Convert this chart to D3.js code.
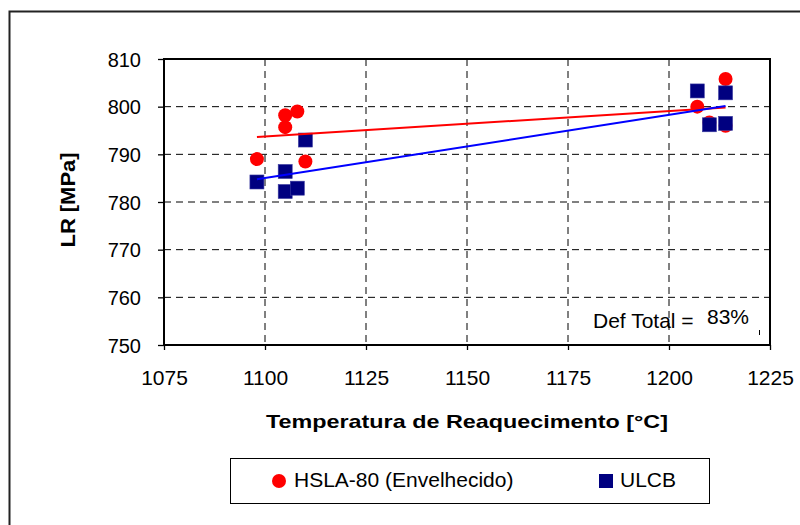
<!DOCTYPE html>
<html><head><meta charset="utf-8">
<script src="https://cdn.jsdelivr.net/npm/d3@7"></script>
<style>body{margin:0;background:#fff}svg{display:block}text{font-family:"Liberation Sans",Arial,sans-serif;fill:#000}</style>
</head><body>
<svg id="c" width="800" height="525"></svg>
<script>
const hslaTemp = [1098,1105,1105,1108,1110,1207,1210,1214,1214];
const hslaLR   = [789,798.2,795.7,799,788.5,800,796.7,805.8,796];
const ulcbTemp = [1098,1105,1105,1108,1110,1207,1210,1214,1214];
const ulcbLR   = [784.2,786.4,782.2,782.9,793,803.3,796.2,802.9,796.5];
const xTicks = [1075,1100,1125,1150,1175,1200,1225];
const yTicks = [750,760,770,780,790,800,810];
const seriesNames = ["HSLA-80 (Envelhecido)","ULCB"];
const annotation = ["Def Total =","83%"];

const svg = d3.select("#c");
const L=164,R=770,T=59,B=345;
const x = d3.scaleLinear().domain([1075,1225]).range([L,R]);
const y = d3.scaleLinear().domain([750,810]).range([B,T]);

// outer border
svg.append("rect").attr("x",9.5).attr("y",11.5).attr("width",800).attr("height",530)
  .attr("fill","none").attr("stroke","#222").attr("stroke-width",2);

// gridlines
const g = svg.append("g");
g.selectAll(".hg").data(yTicks.slice(1,-1)).join("line")
  .attr("x1",L).attr("x2",R).attr("y1",d=>y(d)).attr("y2",d=>y(d))
  .attr("stroke","#000").attr("stroke-dasharray","7,5");
g.selectAll(".vg").data(xTicks.slice(1,-1)).join("line")
  .attr("y1",T).attr("y2",B).attr("x1",d=>x(d)).attr("x2",d=>x(d))
  .attr("stroke","#000").attr("stroke-dasharray","7,5");

// axes
const xa = svg.append("g").attr("transform",`translate(0,${B})`)
  .call(d3.axisBottom(x).tickValues(xTicks).tickFormat(d3.format("d")).tickSizeOuter(0).tickSize(5));
const ya = svg.append("g").attr("transform",`translate(${L},0)`)
  .call(d3.axisLeft(y).tickValues(yTicks).tickFormat(d3.format("d")).tickSizeOuter(0).tickSize(6).tickPadding(17));
[xa,ya].forEach(a=>{a.select(".domain").remove();a.selectAll("line").attr("stroke","#000").attr("stroke-width",1.3);
  a.selectAll("text").attr("font-family","Liberation Sans, Arial, sans-serif").attr("fill","#000");});
xa.selectAll("text").attr("font-size",21).attr("y",40).attr("dy",0);
ya.selectAll("text").attr("font-size",20).attr("dy","0.36em");

// plot border
svg.append("rect").attr("x",L).attr("y",T).attr("width",R-L).attr("height",B-T)
  .attr("fill","none").attr("stroke","#000").attr("stroke-width",2);

// annotation
svg.append("text").attr("x",593).attr("y",328).attr("font-size",21).text(annotation[0]);
svg.append("text").attr("x",707).attr("y",324).attr("font-size",21).text(annotation[1]);
svg.append("line").attr("x1",759.5).attr("x2",759.5).attr("y1",330).attr("y2",335).attr("stroke","#000");

// points
svg.append("g").selectAll("circle").data(hslaTemp.map((t,i)=>[t,hslaLR[i]])).join("circle")
  .attr("cx",d=>x(d[0])).attr("cy",d=>y(d[1])).attr("r",7).attr("fill","#ff0000");
svg.append("g").selectAll("rect").data(ulcbTemp.map((t,i)=>[t,ulcbLR[i]])).join("rect")
  .attr("x",d=>x(d[0])-7).attr("y",d=>y(d[1])-7).attr("width",14).attr("height",14)
  .attr("fill","#000080").attr("stroke","#3a3aa0").attr("stroke-width",0.6);

// linear trendlines
function trend(xs,ys){
  const mx=d3.mean(xs),my=d3.mean(ys);
  const s=d3.sum(xs.map((v,i)=>(v-mx)*(ys[i]-my)))/d3.sum(xs.map(v=>(v-mx)**2));
  const x0=d3.min(xs),x1=d3.max(xs);
  return [[x0,my+s*(x0-mx)],[x1,my+s*(x1-mx)]];
}
const line=d3.line().x(d=>x(d[0])).y(d=>y(d[1]));
svg.append("path").attr("d",line(trend(hslaTemp,hslaLR))).attr("stroke","#ff0000").attr("stroke-width",2).attr("fill","none");
svg.append("path").attr("d",line(trend(ulcbTemp,ulcbLR))).attr("stroke","#0000ff").attr("stroke-width",2).attr("fill","none");

// axis titles
svg.append("text").attr("x",467).attr("y",428).attr("text-anchor","middle").attr("font-size",19)
  .attr("font-weight","bold").attr("textLength",402).attr("lengthAdjust","spacingAndGlyphs")
  .text("Temperatura de Reaquecimento [°C]");
svg.append("text").attr("transform","translate(75,200) rotate(-90)").attr("text-anchor","middle")
  .attr("font-size",21).attr("font-weight","bold").attr("textLength",95).attr("lengthAdjust","spacingAndGlyphs").text("LR [MPa]");

// legend
const lg=svg.append("g");
lg.append("rect").attr("x",230.5).attr("y",458.5).attr("width",479).attr("height",45)
  .attr("fill","#fff").attr("stroke","#000").attr("stroke-width",1);
lg.append("circle").attr("cx",279).attr("cy",481).attr("r",7).attr("fill","#ff0000");
lg.append("text").attr("x",294).attr("y",487).attr("font-size",21).text(seriesNames[0]);
lg.append("rect").attr("x",599).attr("y",474).attr("width",14).attr("height",14).attr("fill","#000080");
lg.append("text").attr("x",620).attr("y",487).attr("font-size",21).text(seriesNames[1]);
</script>
</body></html>
